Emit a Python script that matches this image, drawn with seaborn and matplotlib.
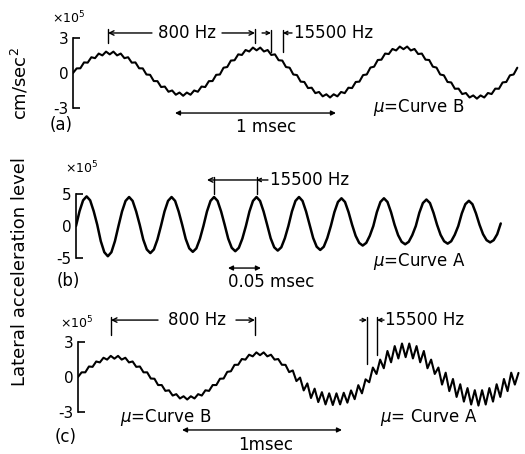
import numpy as np
import pandas as pd
import matplotlib
matplotlib.use("Agg")
import matplotlib.pyplot as plt
import seaborn as sns

# ---------------- data (x10^5 cm/sec^2) ----------------
# (a) mu = Curve B : samples every half ripple period
dt_a = 0.03125  # ms
acc_a = [0, .40, .41, .92, .90, 1.37, 1.29, 1.69, 1.53, 1.86, 1.62, 1.86, 1.53, 1.69, 1.29, 1.37, .90, .92, .41, .40,
         -.13, -.16, -.70, -.71, -1.22, -1.18, -1.63, -1.52, -1.89, -1.70, -1.98, -1.70, -1.89, -1.52, -1.63, -1.18, -1.22, -.71, -.70, -.16,
         -.13, .46, .52, 1.08, 1.11, 1.62, 1.57, 2.00, 1.87, 2.21, 1.97, 2.21, 1.87, 2.00, 1.57, 1.62, 1.11, 1.08, .52, .46,
         -.13, -.18, -.75, -.78, -1.31, -1.28, -1.75, -1.65, -2.03, -1.85, -2.13, -1.85, -2.03, -1.65, -1.75, -1.28, -1.31, -.78, -.75, -.18,
         -.13, .47, .55, 1.13, 1.16, 1.69, 1.65, 2.09, 1.96, 2.30, 2.07, 2.30, 1.96, 2.09, 1.65, 1.69, 1.16, 1.13, .55, .47,
         -.13, -.20, -.78, -.82, -1.37, -1.36, -1.83, -1.74, -2.13, -1.95, -2.23, -1.95, -2.13, -1.74, -1.83, -1.36, -1.37, -.82, -.78, -.20,
         -.13, .46]

# (b) mu = Curve A : 12 samples per 15500 Hz cycle
dt_b = 0.005375  # ms
acc_b = [0, 2.35, 4.07, 4.7, 4.07, 2.35, 0.2, -2.4, -4.16, -4.8, -4.16, -2.4,
         0, 2.3, 3.98, 4.6, 3.98, 2.3, 0.2, -2.15, -3.72, -4.3, -3.72, -2.15,
         0, 2.3, 3.98, 4.6, 3.98, 2.3, 0.2, -2.05, -3.55, -4.1, -3.55, -2.05,
         0, 2.3, 3.98, 4.6, 3.98, 2.3, 0.2, -2.0, -3.46, -4.0, -3.46, -2.0,
         0, 2.3, 3.98, 4.6, 3.98, 2.3, 0.2, -1.95, -3.38, -3.9, -3.38, -1.95,
         0, 2.3, 3.98, 4.6, 3.98, 2.3, 0.2, -1.9, -3.29, -3.8, -3.29, -1.9,
         0, 2.2, 3.81, 4.4, 3.81, 2.2, 0.2, -1.55, -2.68, -3.1, -2.68, -1.55,
         0, 2.2, 3.81, 4.4, 3.81, 2.2, 0.2, -1.45, -2.51, -2.9, -2.51, -1.45,
         0, 2.1, 3.64, 4.2, 3.64, 2.1, 0.2, -1.4, -2.42, -2.8, -2.42, -1.4,
         0, 2.0, 3.46, 4.0, 3.46, 2.0, 0.2, -1.3, -2.25, -2.6, -2.25, -1.3,
         0.4]

# (c) mu = Curve B then Curve A
dt_c = 0.03125  # ms
acc_c = [0, .40, .40, .90, .87, 1.33, 1.25, 1.65, 1.49, 1.81, 1.57, 1.81, 1.49, 1.65, 1.25, 1.33, .87, .90, .40, .40,
         -.13, -.15, -.69, -.69, -1.19, -1.14, -1.59, -1.47, -1.84, -1.65, -1.93, -1.65, -1.84, -1.47, -1.59, -1.14, -1.19, -.69, -.69, -.15,
         -.13, .44, .49, 1.04, 1.05, 1.54, 1.49, 1.91, 1.77, 2.11, 1.87, 2.11, 1.77, 1.91, 1.49, 1.54, 1.05, 1.04, .42, .56,
         -.35, -.05, -1.15, -.55, -1.80, -1.00, -2.15, -1.30, -2.35, -1.40, -2.40, -1.40, -2.35, -1.35, -2.20, -1.15, -1.90, -.70, -1.40, -.20,
         -.45, .81, .26, 1.49, .75, 2.23, 1.26, 2.65, 1.59, 2.87, 1.70, 2.87, 1.59, 2.65, 1.26, 2.23, .75, 1.49, .26, .81,
         -.65, .37, -1.21, -.17, -1.71, -.62, -2.11, -.95, -2.36, -1.13, -2.45, -1.13, -2.36, -.95, -2.11, -.62, -1.71, -.17, -1.21, .37,
         -.65, .35]

panel_tags = ["(a)", "(b)", "(c)"]
y_limits = [3, 5, 3]
curve_labels = [r"$\mu$=Curve B", r"$\mu$=Curve A", r"$\mu$=Curve B", r"$\mu$= Curve A"]

# ---------------- figure ----------------
sns.set_theme(style="white")
plt.rcParams.update({
    "font.family": ["DejaVu Sans"],
    "axes.edgecolor": "black", "text.color": "black",
    "xtick.color": "black", "ytick.color": "black",
    "ytick.labelcolor": "black",
})

W, H = 525, 454
fig = plt.figure(figsize=(W / 100, H / 100), dpi=100)
fig.patch.set_facecolor("white")


def rect(left, top, width, height):
    return [left / W, 1 - (top + height) / H, width / W, height / H]


def fp(x, y):
    return (x / W, 1 - y / H)


ax_a = fig.add_axes(rect(73, 31.6, 451.2, 82.8))
ax_b = fig.add_axes(rect(76, 190.7, 447.8, 70.6))
ax_c = fig.add_axes(rect(78, 335.0, 445.0, 84.0))

series = [(ax_a, acc_a, dt_a, (0, 3.84), 3.6, 1.5),
          (ax_b, acc_b, dt_b, (0, 0.68), 5.6, 1.8),
          (ax_c, acc_c, dt_c, (0, 3.82), 3.6, 1.5)]

for i, (ax, acc, dt, xl, yl, lw) in enumerate(series):
    df = pd.DataFrame({"t": np.arange(len(acc)) * dt, "acc": acc})
    sns.lineplot(data=df, x="t", y="acc", ax=ax, color="black", lw=lw,
                 estimator=None, sort=False)
    ax.set_xlim(*xl)
    ax.set_ylim(-yl, yl)
    ax.set_xlabel("")
    ax.set_ylabel("")
    ax.patch.set_alpha(0)
    for s in ["top", "right", "bottom"]:
        ax.spines[s].set_visible(False)
    lim = y_limits[i]
    ax.spines["left"].set_bounds(-lim, lim)
    ax.spines["left"].set_linewidth(1.2)
    ax.set_xticks([])
    ax.set_yticks([-lim, lim])
    ax.set_yticklabels([f"-{lim}", f"{lim}"])
    ax.set_yticks([0], minor=True)
    ax.set_yticklabels(["0"], minor=True)
    ax.tick_params(axis="y", which="major", left=True, direction="in", length=5,
                   width=1.2, labelsize=11, pad=3)
    ax.tick_params(axis="y", which="minor", left=True, length=0, labelsize=11, pad=3)


def vtick(ax, t, y0, y1):
    ax.plot([t, t], [y0, y1], color="black", lw=1, clip_on=False)


def arrow(ax, x_from, x_to, y, style="->", ms=8):
    ax.annotate("", xy=(x_to, y), xytext=(x_from, y),
                arrowprops=dict(arrowstyle=style, color="black", lw=1,
                                shrinkA=0, shrinkB=0, mutation_scale=ms),
                annotation_clip=False)


fs = 12
# ---- panel (a) annotations ----
vtick(ax_a, 0.298, 2.61, 3.83)
vtick(ax_a, 1.549, 2.61, 3.83)
arrow(ax_a, 0.672, 0.298, 3.48)
arrow(ax_a, 1.268, 1.549, 3.48)
ax_a.text(0.97, 3.48, "800 Hz", ha="center", va="center", fontsize=fs, clip_on=False)
vtick(ax_a, 1.685, 1.83, 3.74)
vtick(ax_a, 1.787, 1.83, 3.74)
arrow(ax_a, 1.609, 1.685, 3.48, ms=6)
arrow(ax_a, 1.864, 1.787, 3.48, ms=6)
ax_a.text(1.881, 3.48, "15500 Hz", ha="left", va="center", fontsize=fs, clip_on=False)
arrow(ax_a, 0.868, 2.238, -3.48, style="<|-|>", ms=7)
ax_a.text(1.643, -4.70, "1 msec", ha="center", va="center", fontsize=fs, clip_on=False)
ax_a.text(2.553, -3.04, curve_labels[0], ha="left", va="center", fontsize=fs, clip_on=False)

# ---- panel (b) annotations ----
vtick(ax_b, 0.2096, 5.08, 7.78)
vtick(ax_b, 0.2741, 5.08, 7.78)
arrow(ax_b, 0.2741, 0.1989, 7.3)
arrow(ax_b, 0.2915, 0.2741, 7.3, ms=6)
ax_b.text(0.2946, 7.3, "15500 Hz", ha="left", va="center", fontsize=fs, clip_on=False)
arrow(ax_b, 0.2308, 0.2808, -6.67, style="<|-|>", ms=7)
ax_b.text(0.2308, -8.9, "0.05 msec", ha="left", va="center", fontsize=fs, clip_on=False)
ax_b.text(0.451, -5.71, curve_labels[1], ha="left", va="center", fontsize=fs, clip_on=False)

# ---- panel (c) annotations ----
vtick(ax_c, 0.283, 3.6, 5.14)
vtick(ax_c, 1.519, 3.6, 5.14)
arrow(ax_c, 0.687, 0.283, 4.88)
arrow(ax_c, 1.356, 1.519, 4.88)
ax_c.text(1.021, 4.88, "800 Hz", ha="center", va="center", fontsize=fs, clip_on=False)
vtick(ax_c, 2.481, 1.11, 5.14)
vtick(ax_c, 2.567, 1.89, 5.14)
arrow(ax_c, 2.42, 2.481, 4.88, ms=6)
arrow(ax_c, 2.627, 2.567, 4.88, ms=6)
ax_c.text(2.635, 4.88, "15500 Hz", ha="left", va="center", fontsize=fs, clip_on=False)
arrow(ax_c, 0.893, 2.266, -4.54, style="<|-|>", ms=7)
ax_c.text(1.614, -5.83, "1msec", ha="center", va="center", fontsize=fs, clip_on=False)
ax_c.text(0.361, -3.51, curve_labels[2], ha="left", va="center", fontsize=fs, clip_on=False)
ax_c.text(2.592, -3.51, curve_labels[3], ha="left", va="center", fontsize=fs, clip_on=False)

# ---- scale factors and panel tags ----
for (x, y) in [(52, 18), (65, 168), (60, 323)]:
    fig.text(*fp(x, y), r"×10$^5$", fontsize=9, ha="left", va="center")
for tag, (x, y) in zip(panel_tags, [(50, 125), (57, 281), (55, 437)]):
    fig.text(*fp(x, y), tag, fontsize=fs, ha="left", va="center")

# ---- y label ----
fig.text(*fp(20, 272), "Lateral acceleration level", rotation=90,
         fontsize=13, ha="center", va="center")
fig.text(*fp(20, 84), "cm/sec$^2$", rotation=90,
         fontsize=13, ha="center", va="center")

fig.savefig("out.png", dpi=100, facecolor="white")
